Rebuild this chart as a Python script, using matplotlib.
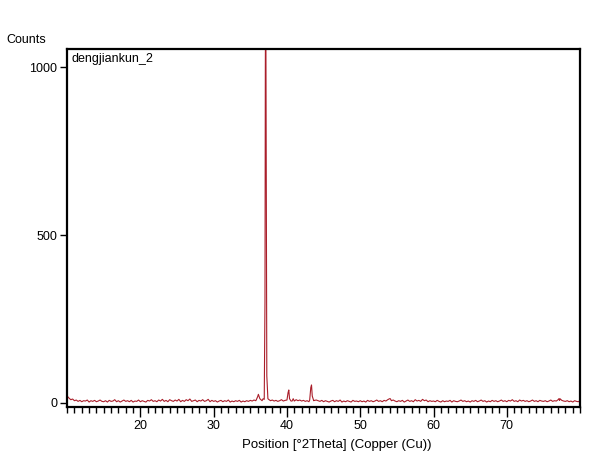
import numpy as np
import matplotlib
matplotlib.use('Agg')
import matplotlib.pyplot as plt
from matplotlib.ticker import MultipleLocator

plt.rcParams['font.family'] = ['Liberation Sans', 'DejaVu Sans']

sample_name = 'dengjiankun_2'

# background scan, 10..80 deg every 0.25 deg (counts)
scan_start, scan_step = 10.0, 0.25
base_counts = [
    20, 14, 9, 11, 6, 8, 4, 7, 3, 6, 5, 8, 2, 6, 4, 7, 3, 5, 8, 4,
    3, 6, 2, 7, 4, 5, 9, 3, 6, 2, 5, 8, 4, 6, 3, 7, 2, 5, 4, 8,
    3, 6, 4, 2, 7, 5, 9, 4, 6, 3, 8, 5, 10, 4, 7, 3, 9, 6, 4, 8,
    5, 10, 3, 7, 4, 9, 6, 11, 4, 6, 8, 3, 7, 5, 9, 4, 6, 10, 3, 7,
    4, 6, 2, 5, 7, 3, 6, 4, 8, 2, 5, 3, 6, 4, 7, 2, 5, 3, 6, 4,
    7, 5, 8, 6, 10, 18, 24, 12, 9, 14, 10, 6, 8, 5, 7, 4, 6, 9, 5, 7,
    8, 20, 35, 12, 6, 9, 6, 8, 5, 7, 4, 6, 3, 5, 9, 7, 8, 6, 4, 7,
    3, 6, 4, 2, 5, 7, 3, 6, 4, 8, 2, 5, 3, 6, 4, 2, 7, 4, 5, 3,
    6, 3, 5, 2, 7, 4, 6, 3, 5, 8, 4, 6, 3, 7, 5, 9, 12, 6, 8, 5,
    3, 6, 4, 7, 2, 5, 8, 4, 6, 3, 9, 5, 7, 4, 10, 6, 8, 3, 6, 4,
    5, 3, 7, 4, 2, 6, 3, 5, 4, 7, 2, 6, 4, 3, 5, 8, 4, 6, 3, 5,
    2, 6, 4, 7, 3, 5, 8, 4, 6, 2, 5, 3, 7, 4, 6, 3, 5, 8, 4, 6,
    3, 7, 5, 9, 4, 6, 3, 8, 5, 7, 4, 6, 3, 5, 8, 4, 6, 3, 7, 5,
    4, 6, 3, 5, 8, 4, 6, 5, 9, 12, 7, 5, 4, 6, 3, 5, 2, 6, 4, 3,
    6,
]

# reflections (profile points)
peak_pos = [35.8, 36.0, 36.1, 36.3, 36.6,
            36.9, 37.0, 37.05, 37.1, 37.15, 37.25, 37.4,
            40.0, 40.15, 40.25, 40.35, 40.55,
            40.7, 40.85, 41.0,
            43.1, 43.25, 43.35, 43.45, 43.65,
            54.1, 54.2,
            77.1, 77.2]
peak_counts = [8, 18, 25, 12, 6,
               10, 300, 1000, 1300, 900, 80, 12,
               8, 30, 38, 12, 5,
               5, 12, 5,
               8, 45, 53, 20, 6,
               12, 8,
               12, 7]

base_pos = scan_start + scan_step * np.arange(len(base_counts))
base_counts = np.array(base_counts, dtype=float)
peak_pos = np.array(peak_pos)
peak_counts = np.array(peak_counts, dtype=float)

# drop background points that sit inside a peak profile
groups = [(35.8, 36.6), (36.9, 37.4), (40.0, 40.55), (40.7, 41.0), (43.1, 43.65), (54.1, 54.2), (77.1, 77.2)]
keep = np.ones(len(base_pos), bool)
for lo, hi in groups:
    keep &= ~((base_pos >= lo) & (base_pos <= hi))

x = np.concatenate([base_pos[keep], peak_pos])
y = np.concatenate([base_counts[keep], peak_counts])
order = np.argsort(x)
x, y = x[order], y[order]

fig = plt.figure(figsize=(6.1, 4.75), dpi=100)
ax = fig.add_axes([0.110, 0.143, 0.841, 0.754])
ax.plot(x, y, color='#aa1e2a', lw=0.8)

ax.set_xlim(10, 80)
ax.set_ylim(-13, 1055)
ax.xaxis.set_minor_locator(MultipleLocator(1))
ax.set_xticks([20, 30, 40, 50, 60, 70])
ax.set_yticks([0, 500, 1000])
ax.tick_params(axis='both', direction='out', labelsize=9, width=1, color='black')
ax.tick_params(axis='x', which='major', length=7, pad=2)
ax.tick_params(axis='x', which='minor', length=4, width=1)
ax.tick_params(axis='y', which='major', length=5, pad=2)
for s in ax.spines.values():
    s.set_linewidth(1.6)

ax.text(0.008, 0.988, sample_name, transform=ax.transAxes, fontsize=9, va='top', ha='left')
fig.text(6 / 610, 1 - 40 / 475, 'Counts', fontsize=9, va='center', ha='left')
fig.text(337 / 610, 1 - 445 / 475, 'Position [°2Theta] (Copper (Cu))', fontsize=9.5, va='center', ha='center')

plt.savefig('out.png', dpi=100)
